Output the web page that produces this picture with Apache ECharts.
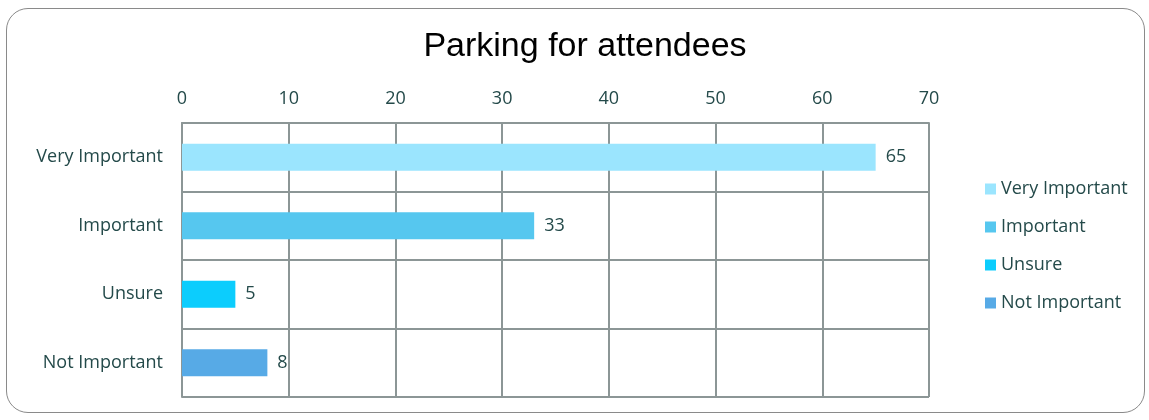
<!DOCTYPE html>
<html><head><meta charset="utf-8">
<script src="https://cdn.jsdelivr.net/npm/echarts@6/dist/echarts.min.js"></script>
<style>
html,body{margin:0;padding:0;background:#fff;}
#wrap{position:absolute;left:6px;top:8px;width:1137px;height:403px;border:1.5px solid #8a8a8a;border-radius:22px;}
#c{position:absolute;left:0;top:0;width:1149px;height:420px;}
</style></head>
<body><div id="wrap"></div><div id="c"></div>
<script>
const categories = ['Very Important','Important','Unsure','Not Important'];
const values = [65, 33, 5, 8];
const colors = ['#9be5fe','#56c7ef','#0ccdfd','#57aae6'];
const xTicks = [0,10,20,30,40,50,60,70];

const txt = '#244a4a';
const lineC = '#8c9696';
const FS = 18;
const series = categories.map((name, i) => ({
  name: name,
  type: 'bar',
  stack: 'all',
  barWidth: 27,
  itemStyle: {color: colors[i]},
  label: {show: true, position: 'right', distance: 10, color: txt, fontSize: FS, fontFamily: 'Open Sans'},
  data: categories.map((c, j) => j === i ? values[i] : '-')
}));
const chart = echarts.init(document.getElementById('c'));
chart.setOption({
  animation: false,
  title: {text: 'Parking for attendees', left: 580, textAlign: 'center', top: 25,
    textStyle: {fontSize: 34, fontWeight: 'normal', color: '#000', fontFamily: 'Liberation Sans'}},
  legend: {orient: 'vertical', left: 980, top: 175, itemWidth: 11, itemHeight: 11, itemGap: 20, icon: 'rect',
    textStyle: {color: txt, fontSize: FS, fontFamily: 'Open Sans'}, data: categories},
  grid: {left: 182, right: 220, top: 123, bottom: 23},
  xAxis: {type: 'value', position: 'top', min: xTicks[0], max: xTicks[xTicks.length-1], interval: 10,
    axisLine: {show: true, lineStyle: {color: lineC, width: 2}},
    axisTick: {show: false},
    axisLabel: {color: txt, fontSize: FS, fontFamily: 'Open Sans', margin: 15},
    splitLine: {show: true, lineStyle: {color: lineC, width: 2}}},
  yAxis: {type: 'category', inverse: true, data: categories,
    axisLine: {show: true, lineStyle: {color: lineC, width: 2}},
    axisTick: {show: false},
    axisLabel: {color: txt, fontSize: FS, fontFamily: 'Open Sans', margin: 19},
    splitLine: {show: true, lineStyle: {color: lineC, width: 2}}},
  series: series
});
</script></body></html>
